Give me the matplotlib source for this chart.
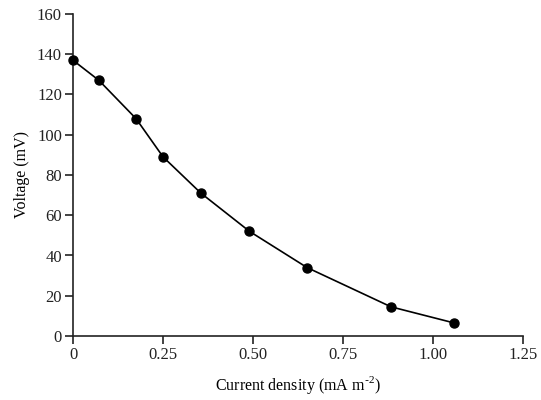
import matplotlib
matplotlib.use('Agg')
import matplotlib.pyplot as plt

# polarisation curve
current = [0, 0.072, 0.175, 0.25, 0.355, 0.49, 0.65, 0.883, 1.058]
voltage = [137, 127, 108, 89, 71, 52, 34, 14.5, 6.5]
xticks = [0, 0.25, 0.5, 0.75, 1.0, 1.25]
xtick_labels = ['0', '0.25', '0.50', '0.75', '1.00', '1.25']
yticks = [0, 20, 40, 60, 80, 100, 120, 140, 160]

plt.rcParams['font.family'] = ['Liberation Serif', 'DejaVu Serif']
plt.rcParams['axes.unicode_minus'] = False

fig = plt.figure(figsize=(5.41, 4.0), dpi=100)
ax = fig.add_axes([0.135, 0.16, 0.832, 0.805])
ax.plot(current, voltage, color='black', linewidth=1.2, marker='o',
        markersize=6.5, clip_on=False, zorder=3)

ax.set_xlim(0, 1.25)
ax.set_ylim(0, 160)
ax.set_xticks(xticks)
ax.set_xticklabels(xtick_labels)
ax.set_yticks(yticks)
for s in ['top', 'right']:
    ax.spines[s].set_visible(False)
for s in ['left', 'bottom']:
    ax.spines[s].set_linewidth(1.2)
    ax.spines[s].set_color('#222222')
ax.tick_params(direction='out', length=6, width=1.2, labelsize=12,
               colors='#222222', pad=2)
ax.set_xlabel('Current density (mA m$^{\\mathregular{\\text{-}2}}$)', fontsize=11.5, labelpad=8)
ax.set_ylabel('Voltage (mV)', fontsize=11.5, labelpad=5)

fig.savefig('out.png', dpi=100)
